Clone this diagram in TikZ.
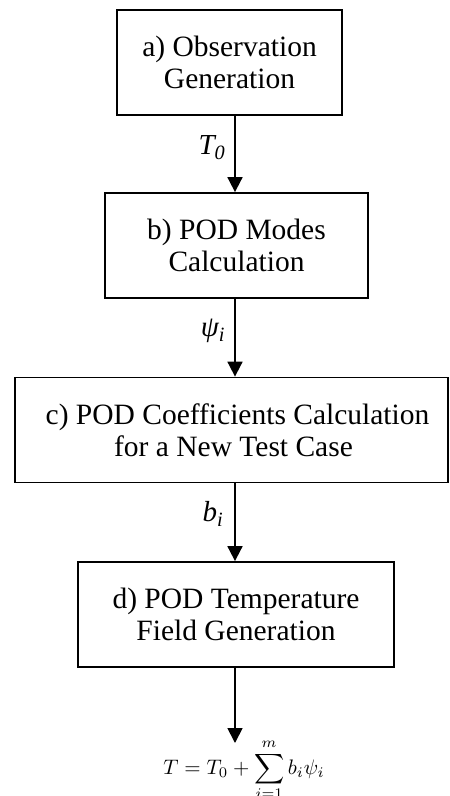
\documentclass[tikz,border=0pt]{standalone}
\usepackage[no-math]{fontspec}
\usepackage{graphicx}
\setmainfont{Liberation Serif}
\usetikzlibrary{arrows.meta}
\begin{document}
\begin{tikzpicture}[x=1pt,y=-1pt,
  stepbox/.style={draw=black, line width=1.8pt, rectangle, minimum height=105pt, align=center,
    font=\fontsize{29.5}{32}\selectfont, inner sep=0pt},
  flow/.style={line width=1.8pt, -{Triangle[length=15pt,width=15pt]}},
  lbl/.style={font=\fontsize{29}{33}\selectfont\itshape, inner sep=0pt}]
\useasboundingbox (0,0) rectangle (450,796);
\node[stepbox, minimum width=225pt] (a) at (229.5,62.5) {a) Observation\\Generation};
\node[stepbox, minimum width=263pt] (b) at (236.5,245.5) {b) POD Modes\\Calculation};
\node[stepbox, minimum width=433pt] (c) at (231.5,430) {\hspace*{12pt}c) POD Coefficients Calculation\\\hspace*{4pt}for a New Test Case};
\node[stepbox, minimum width=316pt] (d) at (236,614.5) {d) POD Temperature\\Field Generation};
\coordinate (ax) at (235,0);
\coordinate (tip) at (235,743);
\node[inner sep=0pt, anchor=base] (f) at (244,774)
  {\scalebox{2.1}{$\displaystyle T = T_0 + \sum_{i=1}^{m} b_i\psi_i$}};
\draw[flow] (a.south -| ax) -- (b.north -| ax);
\draw[flow] (b.south -| ax) -- (c.north -| ax);
\draw[flow] (c.south -| ax) -- (d.north -| ax);
\draw[flow] (d.south -| ax) -- (tip);
\node[lbl] (l1) at (212,148) {T\textsubscript{0}};
\node[lbl] (l2) at (213,331) {ψ\textsubscript{i}};
\node[lbl] (l3) at (213,514) {b\textsubscript{i}};
\end{tikzpicture}
\end{document}
